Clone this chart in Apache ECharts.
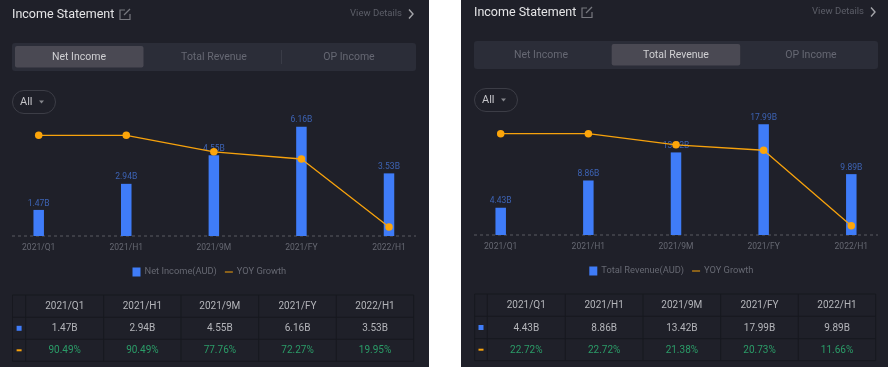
<!DOCTYPE html>
<html><head><meta charset="utf-8">
<style>html,body{margin:0;padding:0;background:#fff}#c{width:888px;height:367px}</style>
<script src="https://cdn.jsdelivr.net/npm/echarts@6/dist/echarts.min.js"></script>
</head><body><div id="c"></div>
<script>
const categories = ['2021/Q1','2021/H1','2021/9M','2021/FY','2022/H1'];
const netIncome = [1.47,2.94,4.55,6.16,3.53];
const netYoy = [90.49,90.49,77.76,72.27,19.95];
const totalRevenue = [4.43,8.86,13.42,17.99,9.89];
const revenueYoy = [22.72,22.72,21.38,20.73,11.66];
const tabs = ['Net Income','Total Revenue','OP Income'];

const FONT = 'Roboto, sans-serif';
const BG='#1f2029', BLUE='#3f7cf8', ORANGE='#f7a20c';
const panels = [
 {name:'Net Income(AUD)', vals:netIncome, yoy:netYoy, active:0, x0:0, x1:429, dy:0, gx:38.7, gw:350.3, gt:126.7, gh:109.3, barMax:6.16, yMin:13.03, yMax:97.1, legX:132.5, legY:267.5, tb:[12.5,25.7,103.7,181,258.7,336.3,413.7], ty:[295,317.3,339.3,361.3]},
 {name:'Total Revenue(AUD)', vals:totalRevenue, yoy:revenueYoy, active:1, x0:461, x1:888, dy:-2, gx:500.7, gw:350.6, gt:124.3, gh:110.7, barMax:17.99, yMin:10.54, yMax:23.85, legX:589.3, legY:266.5, tb:[474.7,487.3,565.3,643,720.7,798.3,875.7], ty:[294,316.3,338.7,360.7]}
];
const g=[];
const txt=(x,y,text,fill,size,align)=>g.push({type:'text',silent:true,style:{x,y,text,fill,font:size+'px '+FONT,align:align||'center',verticalAlign:'middle'}});
const rect=(x,y,w,h,fill,r,stroke)=>g.push({type:'rect',silent:true,shape:{x,y,width:w,height:h,r:r||0},style:{fill:fill||'transparent',stroke:stroke||null,lineWidth:1}});
const line=(x1,y1,x2,y2,stroke,extra)=>g.push({type:'line',silent:true,shape:{x1,y1,x2,y2},style:Object.assign({stroke,lineWidth:1},extra||{})});
const poly=(pts,stroke,w)=>g.push({type:'polyline',silent:true,shape:{points:pts},style:{stroke,lineWidth:w||1.2,fill:null}});

panels.forEach(p=>{
  const ox=p.x0===0?12:474, y=p.dy;
  rect(p.x0,0,p.x1-p.x0,367,BG);
  txt(ox,15+y,'Income Statement','#e4e4e6',12.5,'left');
  // edit icon
  const ix=ox+107;
  poly([[ix+6,10+y],[ix+1,10+y],[ix+1,19.5+y],[ix+11,19.5+y],[ix+11,14+y]],'#77787f');
  poly([[ix+5,15+y],[ix+11,9+y]],'#77787f');
  txt(ox+390,14+y,'View Details','#5c5e68',9.5,'right');
  poly([[ox+397,9.5+y],[ox+401,14+y],[ox+397,18.5+y]],'#a4a5aa',1.4);
  // tabs
  rect(ox,43+y,404,28,'#2b2d38',3);
  rect(ox+3+135*p.active+(p.active?-0.3:0),46+y,128.5,21.5,'#4a4953',2);
  tabs.forEach((t,i)=>txt(ox+67+135*i,57+y,t,i===p.active?'#d0d0d3':'#666873',10.5));
  if(p.active===0) line(281.5,50+y,281.5,64+y,'#3a3c47');
  // pill
  rect(ox+0.5,90.5+y,43,23,null,11.5,'#3c3d46');
  txt(ox+8,102+y,'All','#c4c4c8',11,'left');
  g.push({type:'polygon',silent:true,shape:{points:[[ox+27,100.5+y],[ox+32,100.5+y],[ox+29.5,103.5+y]]},style:{fill:'#85868c'}});
  // baseline
  line(ox,p.gt+p.gh,ox+404,p.gt+p.gh,'#5a5b63',{lineDash:[3,3]});
  // table
  const b=p.tb,ty=p.ty,bc='#17181f';
  b.forEach(x=>line(x,ty[0],x,ty[3],bc));
  ty.forEach(v=>line(b[0],v,b[6],v,bc));
  const mid=(a,c)=>(a+c)/2;
  categories.forEach((c,i)=>{
    const cx=mid(b[i+1],b[i+2]);
    txt(cx,mid(ty[0],ty[1])+0.5,c,'#b4b5ba',10);
    txt(cx,mid(ty[1],ty[2])+0.5,p.vals[i].toFixed(2)+'B','#b4b5ba',10);
    txt(cx,mid(ty[2],ty[3])+0.5,p.yoy[i].toFixed(2)+'%','#2b9c68',10);
  });
  const mx=mid(b[0],b[1]);
  rect(mx-2.5,mid(ty[1],ty[2])-2.5,5,5,BLUE);
  rect(mx-2.5,mid(ty[2],ty[3])-1,5,2,ORANGE);
});

const grids=[],xAxes=[],yAxes=[],series=[],legends=[];
panels.forEach((p,i)=>{
  grids.push({left:p.gx,width:p.gw,top:p.gt,height:p.gh,containLabel:false});
  xAxes.push({type:'category',gridIndex:i,data:categories,boundaryGap:false,axisLine:{show:false},axisTick:{show:false},splitLine:{show:false},
    axisLabel:{interval:0,color:'#666872',fontSize:8.5,fontFamily:FONT,margin:7}});
  yAxes.push({type:'value',gridIndex:i,min:0,max:p.barMax,show:false,splitLine:{show:false}});
  yAxes.push({type:'value',gridIndex:i,min:p.yMin,max:p.yMax,show:false,splitLine:{show:false}});
  series.push({type:'bar',name:p.name,xAxisIndex:i,yAxisIndex:i*2,data:p.vals,barWidth:10.5,clip:false,z:2,animation:false,
    itemStyle:{color:BLUE},label:{show:true,position:'top',distance:2,color:'#3d63b4',fontSize:8.5,fontFamily:FONT,formatter:o=>o.value.toFixed(2)+'B'}});
  series.push({type:'line',name:'YOY Growth',xAxisIndex:i,yAxisIndex:i*2+1,data:p.yoy,clip:false,z:5,animation:false,symbol:'circle',symbolSize:7.5,
    lineStyle:{color:ORANGE,width:1.3},itemStyle:{color:'#fca50a'}});
  legends.push({left:p.legX,top:p.legY,itemWidth:8,itemHeight:9,itemGap:8,padding:0,selectedMode:false,
    textStyle:{color:'#666872',fontSize:9.3,fontFamily:FONT,padding:[0,0,0,-1]},
    data:[{name:p.name,icon:'rect',itemStyle:{color:BLUE}},{name:'YOY Growth',icon:'path://M0 0h8v1H0z',itemStyle:{color:ORANGE}}]});
});
const chart=echarts.init(document.getElementById('c'),null,{renderer:'canvas'});
chart.setOption({animation:false,backgroundColor:'#ffffff',grid:grids,xAxis:xAxes,yAxis:yAxes,series,legend:legends,graphic:{elements:g}});
</script></body></html>
